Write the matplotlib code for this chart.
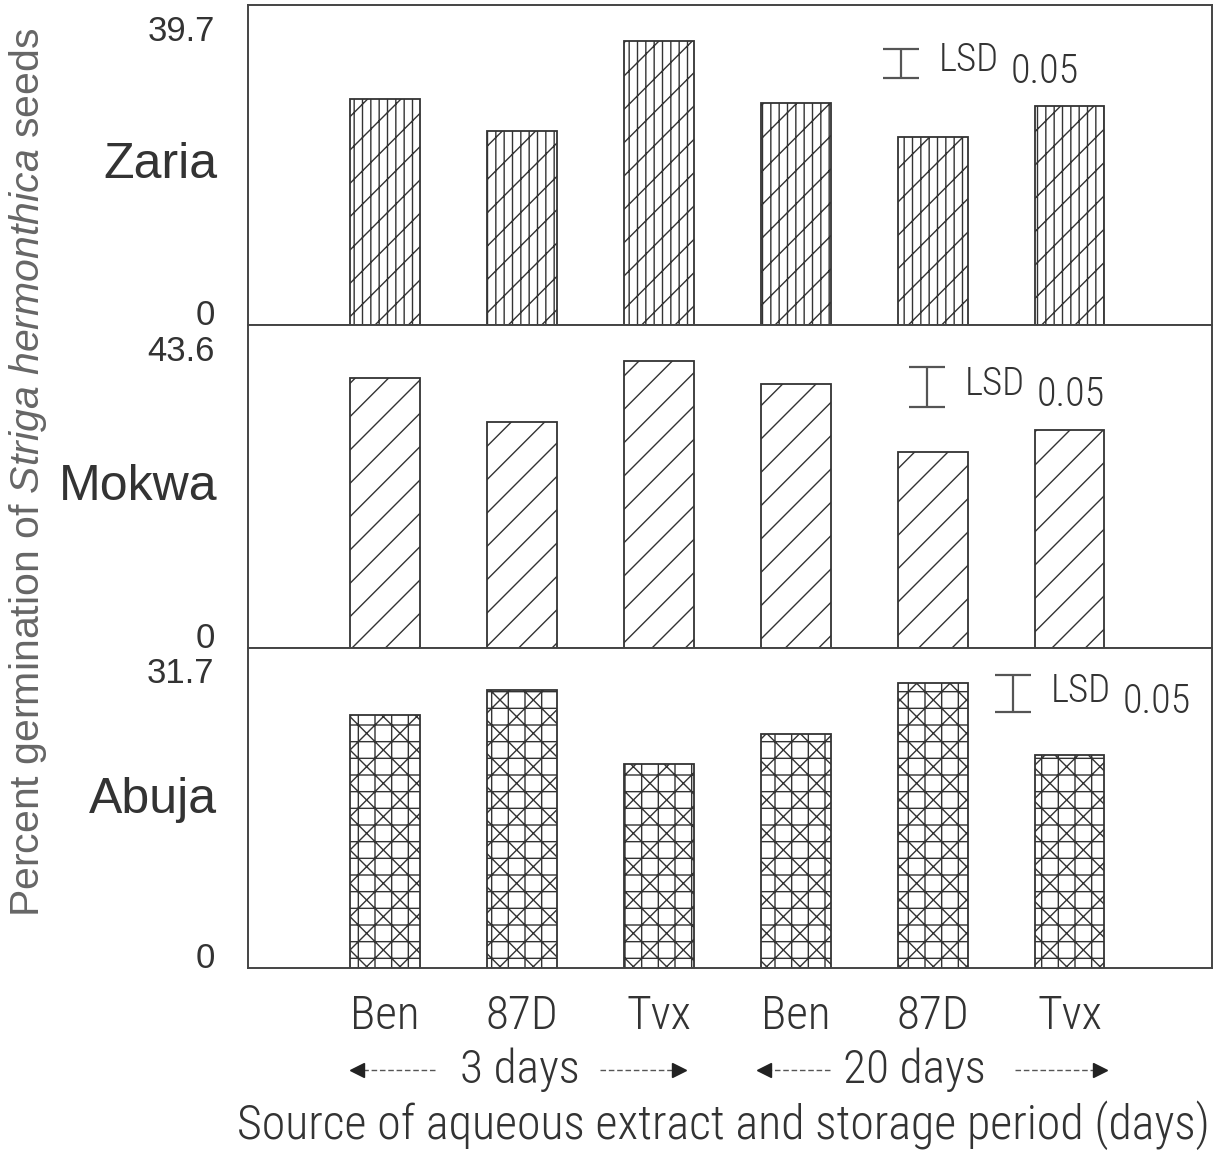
import matplotlib
matplotlib.use("Agg")
import matplotlib.pyplot as plt
import numpy as np
from matplotlib import font_manager
from matplotlib.transforms import ScaledTranslation, blended_transform_factory

# data
sources = ["Ben", "87D", "Tvx", "Ben", "87D", "Tvx"]
sites = ["Zaria", "Mokwa", "Abuja"]
zaria = [31.5, 27.1, 39.7, 31.0, 26.3, 30.6]
mokwa = [41.0, 34.3, 43.6, 40.1, 29.7, 33.1]
abuja = [28.2, 31.0, 22.7, 26.1, 31.7, 23.7]
top_labels = ["39.7", "43.6", "31.7"]
lsd_len = [4.0, 6.1, 4.1]
lsd_top = [38.5, 42.7, 32.6]
lsd_x = [3.77, 3.96, 4.59]
periods = ["3 days", "20 days"]
period_x = [0.985, 3.87]

plt.rcParams["font.family"] = ["Liberation Sans", "DejaVu Sans"]
plt.rcParams["mathtext.fontset"] = "custom"
plt.rcParams["mathtext.rm"] = "Liberation Sans"
plt.rcParams["mathtext.it"] = "Liberation Sans:italic"
plt.rcParams["hatch.linewidth"] = 1.0

# pick a narrow font for the condensed labels
entries = font_manager.fontManager.ttflist
names = {f.name for f in entries}
narrow_size = 1.0
if "Liberation Sans Narrow" in names:
    narrow = dict(family="Liberation Sans Narrow")
elif "Roboto Condensed" in names:
    narrow = dict(family="Roboto Condensed", weight="light")
elif any(f.name == "DejaVu Sans" and "condensed" in str(f.stretch) for f in entries):
    narrow = dict(family="DejaVu Sans", stretch="condensed")
else:
    narrow = dict(family="Liberation Sans")
    narrow_size = 0.82

ink = "#333333"
fig = plt.figure(figsize=(12.19, 11.57), dpi=100)
left, width = 0.2034, 0.7908
bottoms = [0.7191, 0.4399, 0.1634]
heights = [0.2766, 0.2792, 0.2766]
hatches = ["||/", "/", "+x"]
values = [zaria, mokwa, abuja]
x = np.arange(len(sources))

axes = []
for i in range(3):
    ax = fig.add_axes([left, bottoms[i], width, heights[i]])
    vals = values[i]
    ax.bar(x, vals, width=0.51, color="white", edgecolor=ink, hatch=hatches[i], linewidth=1.3)
    top = max(vals)
    ax.set_xlim(-1.0, 6.04)
    ax.set_ylim(0, top * 1.125)
    ax.set_yticks([0, top])
    ax.set_yticklabels(["0", top_labels[i]], fontsize=25, color="#333333")
    ax.tick_params(axis="y", length=0, pad=24)
    for lab in ax.get_yticklabels():
        lab.set_transform(lab.get_transform() + ScaledTranslation(0, 0.13, fig.dpi_scale_trans))
    for sp in ax.spines.values():
        sp.set_color("#444444")
        sp.set_linewidth(1.4)
    yname = 0.525 if i == 2 else 0.5
    ax.text(-0.032, yname, sites[i], transform=ax.transAxes, ha="right", va="center",
            fontsize=36, color="#333333")

    # LSD bar
    ax.errorbar(lsd_x[i], lsd_top[i] - lsd_len[i] / 2, yerr=lsd_len[i] / 2, fmt="none",
                ecolor="#555555", elinewidth=1.6, capsize=13, capthick=1.6)
    ax.annotate("LSD", xy=(lsd_x[i], lsd_top[i] - lsd_len[i] / 2), xytext=(27, 2),
                textcoords="offset points", ha="left", va="center",
                fontsize=28 * narrow_size, color="#333333", **narrow)
    ax.annotate("0.05", xy=(lsd_x[i], lsd_top[i] - lsd_len[i] / 2), xytext=(79, -6),
                textcoords="offset points", ha="left", va="center",
                fontsize=29 * narrow_size, color="#333333", **narrow)
    if i < 2:
        ax.set_xticks([])
    axes.append(ax)

ax3 = axes[2]
ax3.set_xticks(x)
ax3.set_xticklabels(sources, fontsize=34 * narrow_size, color="#333333", **narrow)
ax3.tick_params(axis="x", length=0, pad=19)

# storage period labels with arrows
trans = blended_transform_factory(ax3.transData, fig.transFigure)
arrow_spans = [[(0.365, -0.2), (1.57, 2.15)], [(3.25, 2.77), (4.6, 5.22)]]
for label, px, spans in zip(periods, period_x, arrow_spans):
    ax3.text(px, 0.0752, label, transform=trans, ha="center", va="center",
             fontsize=34 * narrow_size, color="#333333", **narrow)
    for tail, head in spans:
        ax3.plot([tail, head], [0.0752, 0.0752], transform=trans, clip_on=False,
                 color="#555555", lw=1.0, ls=(0, (4, 2)))
        ax3.plot([head], [0.0752], transform=trans, clip_on=False, color="#222222",
                 marker="<" if head < tail else ">", markersize=10, ls="none")

ax3.text(2.47, 0.0277, "Source of aqueous extract and storage period (days)", transform=trans,
         ha="center", va="center", fontsize=34.5 * narrow_size, color="#333333", **narrow)

fig.text(0.023, 0.592, r"Percent germination of $\it{Striga\ hermonthica}$ seeds",
         rotation=90, ha="center", va="center", fontsize=29.5, color="#666666")

fig.savefig("out.png", dpi=100)
